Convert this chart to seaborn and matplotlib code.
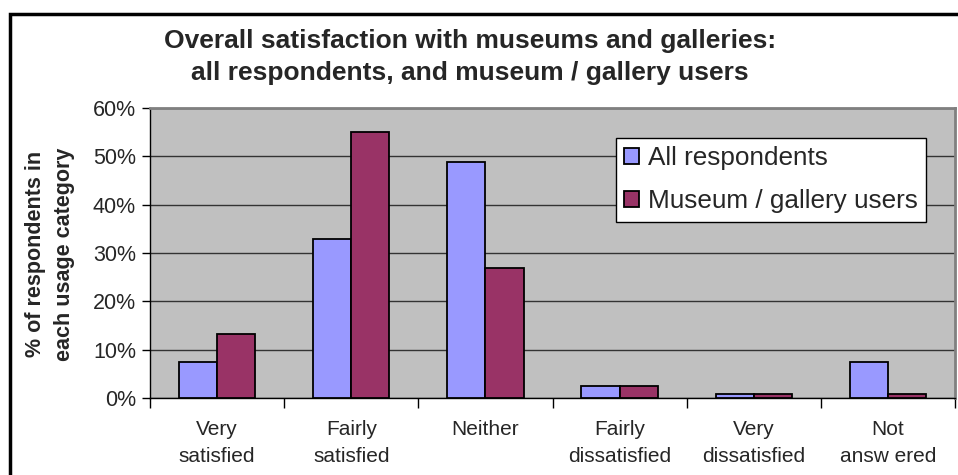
import matplotlib
matplotlib.use("Agg")
import matplotlib.pyplot as plt
import seaborn as sns
import pandas as pd
from matplotlib.patches import Rectangle
from matplotlib.ticker import FixedLocator, PercentFormatter

categories = ["Very\nsatisfied", "Fairly\nsatisfied", "Neither", "Fairly\ndissatisfied",
              "Very\ndissatisfied", "Not\nansw ered"]
series_names = ["All respondents", "Museum / gallery users"]
all_respondents = [7.5, 32.8, 48.8, 2.5, 0.8, 7.5]
museum_users = [13.3, 55.0, 27.0, 2.5, 0.8, 0.8]
yticks = [0, 10, 20, 30, 40, 50, 60]
colors = ["#9999FF", "#993366"]

df = pd.DataFrame({
    "category": categories * 2,
    "series": [series_names[0]] * 6 + [series_names[1]] * 6,
    "value": all_respondents + museum_users,
})

sns.set_theme(style="white")
plt.rcParams["font.family"] = ["Liberation Sans", "DejaVu Sans"]

W, H = 958, 475
fig = plt.figure(figsize=(W / 100, H / 100), dpi=100)
L, R, T, B = 150, 955, 108, 398
ax = fig.add_axes([L / W, 1 - B / H, (R - L) / W, (B - T) / H])
ax.set_facecolor("#C0C0C0")

sns.barplot(data=df, x="category", y="value", hue="series", order=categories,
            hue_order=series_names, palette=colors, width=0.57, saturation=1,
            edgecolor="black", linewidth=1.3, ax=ax, zorder=3)

ax.set_ylim(0, 60)
ax.set_xlim(-0.5, 5.5)
ax.set_yticks(yticks)
ax.yaxis.set_major_formatter(PercentFormatter(decimals=0))
ax.yaxis.grid(True, color="#333333", linewidth=1.0, zorder=0)
ax.set_axisbelow(True)
ax.set_xlabel("")
ax.set_ylabel("")

ax.tick_params(axis="y", which="major", length=6, width=1, color="black",
               labelsize=15.5, pad=4, left=True)
ax.tick_params(axis="x", which="major", length=0, labelsize=15, pad=16)
ax.xaxis.set_minor_locator(FixedLocator([i - 0.5 for i in range(7)]))
ax.tick_params(axis="x", which="minor", length=7, width=1, color="black", bottom=True)
for lab in ax.get_xticklabels():
    lab.set_linespacing(1.5)

for side in ["top", "right"]:
    ax.spines[side].set_visible(True)
    ax.spines[side].set_color("#808080")
    ax.spines[side].set_linewidth(2)
for side in ["left", "bottom"]:
    ax.spines[side].set_color("black")
    ax.spines[side].set_linewidth(1)

leg = ax.legend(loc="upper left", bbox_to_anchor=((616 - L) / (R - L), 1 - (138 - T) / (B - T)),
                frameon=True, fancybox=False, fontsize=18.8, handlelength=0.55,
                handleheight=0.55, handletextpad=0.35, labelspacing=0.72,
                borderpad=0.32, borderaxespad=0)
leg.get_frame().set_edgecolor("black")
leg.get_frame().set_linewidth(1)
leg.get_frame().set_facecolor("white")
leg.get_frame().set_alpha(1)
leg.set_zorder(5)

fig.text(470 / W, 1 - 57 / H, "Overall satisfaction with museums and galleries:\nall respondents, and museum / gallery users",
         ha="center", va="center", fontsize=19, fontweight="bold", linespacing=1.4)

fig.text(50 / W, 1 - 254 / H, "% of respondents in\neach usage category", rotation=90,
         ha="center", va="center", fontsize=15.5, fontweight="bold", linespacing=1.55)

fig.patches.append(Rectangle((10 / W, -0.1), 1.2, 1 - 14 / H + 0.1, transform=fig.transFigure,
                             fill=False, edgecolor="black", linewidth=2.5, zorder=0))

fig.savefig("out.png", dpi=100, facecolor="white")
